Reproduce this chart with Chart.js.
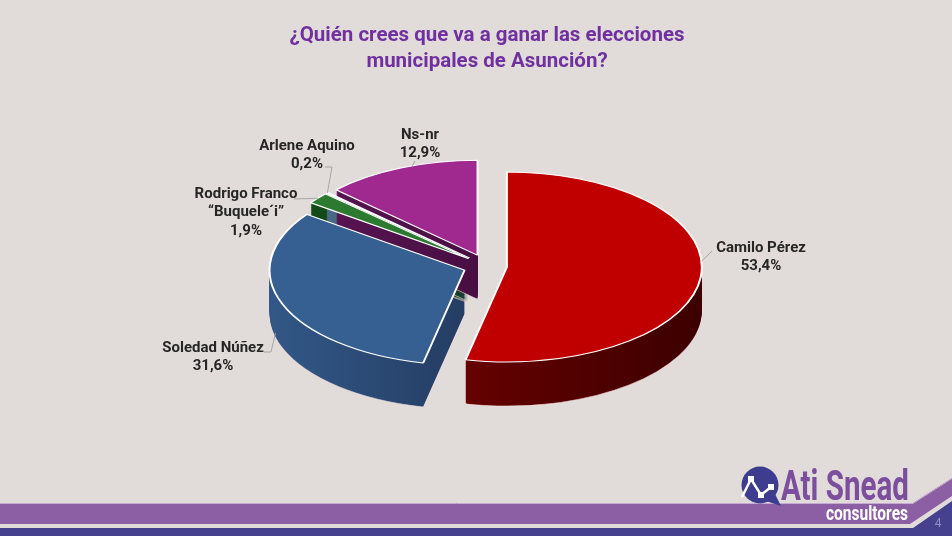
<!DOCTYPE html>
<html>
<head>
<meta charset="utf-8">
<title>Elecciones municipales Asunción</title>
<script src="https://cdn.jsdelivr.net/npm/chart.js@4.4.1/dist/chart.umd.min.js"></script>
<style>
  html, body { margin: 0; padding: 0; background: #E1DCD9; }
  #myChart { display: block; }
</style>
</head>
<body>
<canvas id="myChart" width="952" height="536"></canvas>
<script>
// data
const candidates = ['Camilo Pérez', 'Soledad Núñez', 'Rodrigo Franco\n“Buquele´i”', 'Arlene Aquino', 'Ns-nr'];
const shares = [53.4, 31.6, 1.9, 0.2, 12.9];

const topColors = ['#C00000', '#376092', '#2C7A30', '#9DC3E6', '#A0298F'];
const sideColors = [
    ['#880000', '#5E0000', '#3C0000'],
    ['#325887', '#243D63', '#10203A'],
    ['#145019', '#0C3812', '#082A0C'],
    ['#4E6F8C', '#3C5A74', '#2C465C'],
    ['#5C1656', '#480E43', '#360A32']
];

// where the 3d pie sits on the slide
function project(arc, i, theta, o) {
    const mid = (arc.startAngle + arc.endAngle) / 2;
    const dx = Math.cos(mid) * o.explode[i];
    const dy = Math.sin(mid) * o.explode[i];
    const r = arc.outerRadius;
    return [arc.x + dx + r * Math.cos(theta), o.cy + o.tilt * (dy + r * Math.sin(theta))];
}

const pie3d = {
    id: 'pie3d',
    beforeDatasetDraw() {
        return false; // slices are drawn below, with depth
    },
    afterDatasetsDraw(chart, args, o) {
        const ctx = chart.ctx;
        const arcs = chart.getDatasetMeta(0).data;
        const cy0 = arcs[0].y;
        const shift = (arc, i) => {
            const mid = (arc.startAngle + arc.endAngle) / 2;
            return [Math.cos(mid) * o.explode[i], Math.sin(mid) * o.explode[i]];
        };

        ctx.save();
        ctx.translate(0, o.cy);
        ctx.scale(1, o.tilt);
        ctx.translate(0, -cy0);

        // sides first
        arcs.forEach((arc, i) => {
            const [dx, dy] = shift(arc, i);
            const saved = arc.options;
            const g = ctx.createLinearGradient(arc.x - arc.outerRadius, 0, arc.x + arc.outerRadius, 0);
            g.addColorStop(0, sideColors[i][0]);
            g.addColorStop(0.5, sideColors[i][1]);
            g.addColorStop(1, sideColors[i][2]);
            for (let d = o.depth; d >= 1; d--) {
                arc.options = Object.assign({}, saved, {
                    backgroundColor: g,
                    borderColor: 'rgba(255,225,225,0.55)',
                    borderWidth: d === o.depth ? 1.8 : 0
                });
                ctx.save();
                ctx.translate(dx, dy + d / o.tilt);
                arc.draw(ctx);
                ctx.restore();
            }
            arc.options = saved;
        });

        // then the top faces
        arcs.forEach((arc, i) => {
            const [dx, dy] = shift(arc, i);
            ctx.save();
            ctx.translate(dx, dy);
            arc.draw(ctx);
            ctx.restore();
        });
        ctx.restore();
    }
};

const sliceLabels = {
    id: 'sliceLabels',
    afterDraw(chart, args, o) {
        const ctx = chart.ctx;
        const arcs = chart.getDatasetMeta(0).data;
        const p3 = chart.options.plugins.pie3d;
        ctx.save();
        ctx.font = 'bold 15px Roboto';
        ctx.textAlign = 'center';
        ctx.textBaseline = 'middle';
        arcs.forEach((arc, i) => {
            const L = o.items[i];
            const theta = arc.startAngle + L.frac * (arc.endAngle - arc.startAngle);
            const [ex, ey] = project(arc, i, theta, p3);
            ctx.strokeStyle = '#A6A6A6';
            ctx.lineWidth = 1;
            ctx.beginPath();
            ctx.moveTo(L.lead[0][0], L.lead[0][1]);
            L.lead.slice(1).forEach(p => ctx.lineTo(p[0], p[1]));
            ctx.lineTo(ex, ey + L.drop);
            ctx.stroke();

            const lines = candidates[i].split('\n');
            lines.push(shares[i].toFixed(1).replace('.', ',') + '%');
            ctx.fillStyle = '#262626';
            lines.forEach((t, k) => ctx.fillText(t, L.x, L.y + k * o.lineHeight));
        });
        ctx.restore();
    }
};

const slideDeco = {
    id: 'slideDeco',
    beforeDraw(chart) {
        const ctx = chart.ctx;
        ctx.save();
        ctx.fillStyle = '#E1DCD9';
        ctx.fillRect(0, 0, chart.width, chart.height);

        // purple band
        ctx.fillStyle = '#8C5FA4';
        ctx.beginPath();
        ctx.moveTo(0, 503); ctx.lineTo(913, 503); ctx.lineTo(952, 478);
        ctx.lineTo(952, 496); ctx.lineTo(910, 524); ctx.lineTo(0, 524);
        ctx.closePath();
        ctx.fill();
        ctx.strokeStyle = '#C7AAD2';
        ctx.lineWidth = 1;
        ctx.beginPath();
        ctx.moveTo(0, 503.5); ctx.lineTo(913, 503.5); ctx.lineTo(952, 478.5);
        ctx.stroke();

        // indigo strip
        ctx.fillStyle = '#45418F';
        ctx.beginPath();
        ctx.moveTo(0, 528); ctx.lineTo(913, 528); ctx.lineTo(952, 501);
        ctx.lineTo(952, 536); ctx.lineTo(0, 536);
        ctx.closePath();
        ctx.fill();

        ctx.fillStyle = '#9090C4';
        ctx.font = '12px Roboto';
        ctx.textAlign = 'center';
        ctx.textBaseline = 'middle';
        ctx.fillText('4', 938, 524);

        // logo bubble
        ctx.fillStyle = '#3E3C8E';
        ctx.beginPath();
        ctx.arc(760, 485, 18.5, 0, Math.PI * 2);
        ctx.fill();
        ctx.beginPath();
        ctx.moveTo(766, 501); ctx.lineTo(781, 506); ctx.lineTo(775, 494);
        ctx.closePath();
        ctx.fill();
        ctx.strokeStyle = '#FFFFFF';
        ctx.lineWidth = 2.5;
        ctx.beginPath();
        ctx.moveTo(742, 497); ctx.lineTo(751, 479); ctx.lineTo(761, 495); ctx.lineTo(771, 487);
        ctx.stroke();
        ctx.fillStyle = '#FFFFFF';
        [[751, 479], [761, 495], [771, 487]].forEach(p => ctx.fillRect(p[0] - 3, p[1] - 3, 6, 6));

        // logo words, squeezed to the condensed face of the original
        ctx.textAlign = 'left';
        ctx.textBaseline = 'alphabetic';
        ctx.font = 'bold 42px Roboto';
        let w = ctx.measureText('Ati Snead').width;
        ctx.save();
        ctx.translate(781, 500);
        ctx.scale(128 / w, 1);
        ctx.fillStyle = '#7B4E9E';
        ctx.fillText('Ati Snead', 0, 0);
        ctx.restore();

        ctx.font = 'bold 21px Roboto';
        w = ctx.measureText('consultores').width;
        ctx.save();
        ctx.translate(826, 520);
        ctx.scale(82 / w, 1);
        ctx.fillStyle = '#FFFFFF';
        ctx.fillText('consultores', 0, 0);
        ctx.restore();

        ctx.restore();
    }
};

new Chart(document.getElementById('myChart'), {
    type: 'pie',
    data: {
        labels: candidates,
        datasets: [{
            data: shares,
            backgroundColor: topColors,
            borderColor: '#FFFFFF',
            borderWidth: 2,
            offset: 0
        }]
    },
    options: {
        responsive: false,
        animation: false,
        events: [],
        radius: 195,
        rotation: 0,
        layout: { padding: { left: 22, right: 0, top: 0, bottom: 0 } },
        plugins: {
            legend: { display: false },
            tooltip: { enabled: false },
            title: {
                display: true,
                text: ['¿Quién crees que va a ganar las elecciones', 'municipales de Asunción?'],
                color: '#7030A0',
                font: { family: 'Roboto', size: 20.5, weight: 'bold', lineHeight: 1.28 },
                padding: { top: 23, bottom: 0 }
            },
            pie3d: { cy: 266, tilt: 0.487, depth: 44, explode: [20, 24, 24, 24, 24] },
            sliceLabels: {
                lineHeight: 18.5,
                items: [
                    { x: 761, y: 248, frac: 0.45, drop: 0, lead: [[712, 251]] },
                    { x: 213, y: 348, frac: 0.56, drop: 40, lead: [[264, 352], [271, 352]] },
                    { x: 246, y: 194, frac: 0.5, drop: 0, lead: [[294, 199]] },
                    { x: 307, y: 146, frac: 0.5, drop: 0, lead: [[325, 167], [332, 167]] },
                    { x: 420, y: 135, frac: 0.58, drop: 0, lead: [[415, 161]] }
                ]
            }
        }
    },
    plugins: [slideDeco, pie3d, sliceLabels]
});
</script>
</body>
</html>
